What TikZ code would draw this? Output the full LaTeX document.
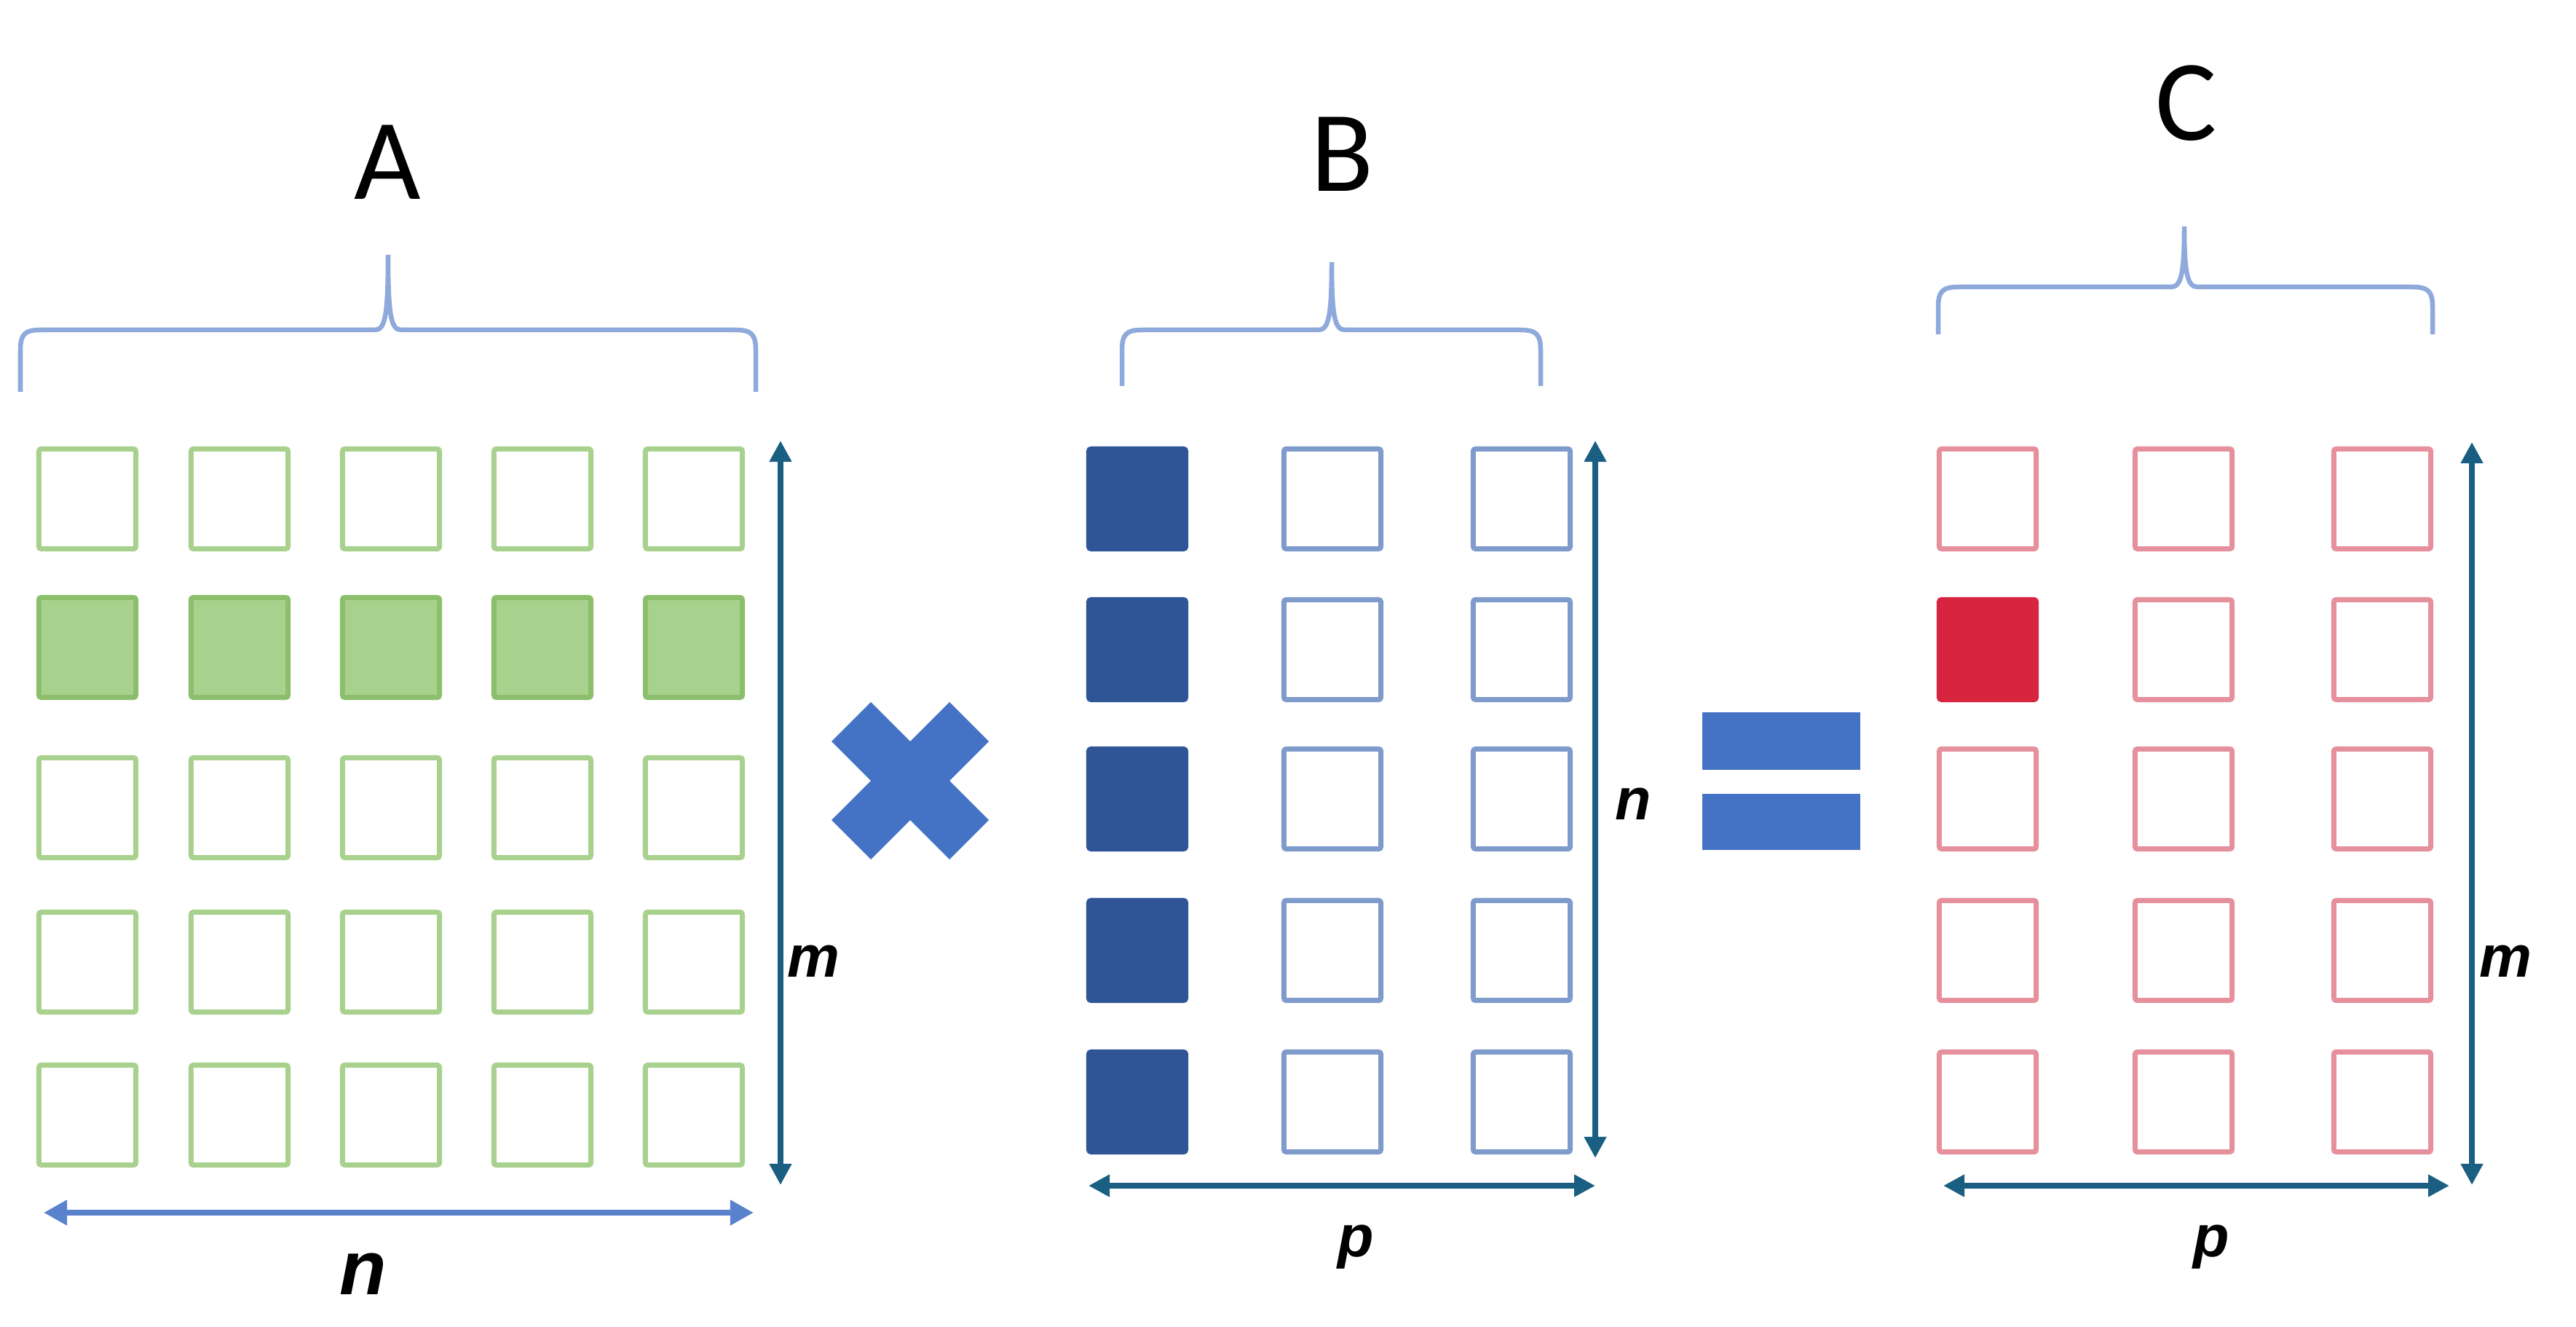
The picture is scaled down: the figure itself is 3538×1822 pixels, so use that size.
\documentclass[tikz,border=0pt]{standalone}
\usepackage{fontspec}
\newfontfamily\titlefont{Carlito}
\newfontfamily\varfont{Liberation Sans}
\usetikzlibrary{arrows.meta, positioning}
\definecolor{agreen}{HTML}{A9D18E}
\definecolor{agreendk}{HTML}{8CBF6C}
\definecolor{bblue}{HTML}{2F5597}
\definecolor{bbluelt}{HTML}{7F9BCB}
\definecolor{cred}{HTML}{D7243F}
\definecolor{credlt}{HTML}{E5909C}
\definecolor{brcblue}{HTML}{8EA9DB}
\definecolor{symblue}{HTML}{4472C4}
\definecolor{nblue}{HTML}{5A82CC}
\definecolor{dimteal}{HTML}{1A5F82}

\begin{document}
\begin{tikzpicture}[x=0.01cm, y=-0.01cm,
cell/.style={rectangle, rounded corners=0.03cm, minimum width=1.33cm, minimum height=1.37cm, inner sep=0, line width=0.07cm},
acell/.style={cell, draw=agreen},
acellon/.style={cell, draw=agreendk, fill=agreen},
bcell/.style={cell, draw=bbluelt},
bcellon/.style={cell, draw=bblue, fill=bblue},
ccell/.style={cell, draw=credlt},
ccellon/.style={cell, draw=cred, fill=cred},
brc/.style={draw=brcblue, line width=0.065cm}]
\tikzstyle{dimline}=[draw=dimteal, line width=0.08cm, >={Triangle[length=0.29cm,width=0.29cm]}, <->]
\tikzstyle{mtitle}=[font={\titlefont\fontsize{45}{54}\selectfont}]
\tikzstyle{var}=[font={\varfont\bfseries\itshape\fontsize{23}{28}\selectfont}]
\def\mtxbrace#1#2#3#4#5#6{%
  \draw[brc] (#1,#4) -- (#1,#5+28) .. controls (#1,#5+6) and (#1+6,#5) .. (#1+28,#5)
    -- (#2-18,#5) .. controls (#2-4,#5) and (#2,#5-20) .. (#2,#6)
    .. controls (#2,#5-20) and (#2+4,#5) .. (#2+18,#5)
    -- (#3-28,#5) .. controls (#3-6,#5) and (#3,#5+6) .. (#3,#5+28) -- (#3,#4);}
\fill[white] (0,0) rectangle (3538,1822);

%A
\node[acell] (a11) at (120,685) {};
\node[acell] (a12) at (329,685) {};
\node[acell] (a13) at (537,685) {};
\node[acell] (a14) at (745,685) {};
\node[acell] (a15) at (953,685) {};
\node[acellon] (a21) at (120,889) {};
\node[acellon] (a22) at (329,889) {};
\node[acellon] (a23) at (537,889) {};
\node[acellon] (a24) at (745,889) {};
\node[acellon] (a25) at (953,889) {};
\node[acell] (a31) at (120,1109) {};
\node[acell] (a32) at (329,1109) {};
\node[acell] (a33) at (537,1109) {};
\node[acell] (a34) at (745,1109) {};
\node[acell] (a35) at (953,1109) {};
\node[acell] (a41) at (120,1321) {};
\node[acell] (a42) at (329,1321) {};
\node[acell] (a43) at (537,1321) {};
\node[acell] (a44) at (745,1321) {};
\node[acell] (a45) at (953,1321) {};
\node[acell] (a51) at (120,1531) {};
\node[acell] (a52) at (329,1531) {};
\node[acell] (a53) at (537,1531) {};
\node[acell] (a54) at (745,1531) {};
\node[acell] (a55) at (953,1531) {};

%B
\node[bcellon] (b11) at (1562,685) {};
\node[bcell] (b12) at (1830,685) {};
\node[bcell] (b13) at (2090,685) {};
\node[bcellon] (b21) at (1562,892) {};
\node[bcell] (b22) at (1830,892) {};
\node[bcell] (b23) at (2090,892) {};
\node[bcellon] (b31) at (1562,1097) {};
\node[bcell] (b32) at (1830,1097) {};
\node[bcell] (b33) at (2090,1097) {};
\node[bcellon] (b41) at (1562,1305) {};
\node[bcell] (b42) at (1830,1305) {};
\node[bcell] (b43) at (2090,1305) {};
\node[bcellon] (b51) at (1562,1513) {};
\node[bcell] (b52) at (1830,1513) {};
\node[bcell] (b53) at (2090,1513) {};

%C
\node[ccell] (c11) at (2730,685) {};
\node[ccell] (c12) at (2999,685) {};
\node[ccell] (c13) at (3272,685) {};
\node[ccellon] (c21) at (2730,892) {};
\node[ccell] (c22) at (2999,892) {};
\node[ccell] (c23) at (3272,892) {};
\node[ccell] (c31) at (2730,1097) {};
\node[ccell] (c32) at (2999,1097) {};
\node[ccell] (c33) at (3272,1097) {};
\node[ccell] (c41) at (2730,1305) {};
\node[ccell] (c42) at (2999,1305) {};
\node[ccell] (c43) at (3272,1305) {};
\node[ccell] (c51) at (2730,1513) {};
\node[ccell] (c52) at (2999,1513) {};
\node[ccell] (c53) at (3272,1513) {};

% braces and names
\mtxbrace{28}{533}{1038}{538}{453}{350}
\mtxbrace{1541}{1829}{2116}{530}{453}{360}
\mtxbrace{2662}{3000}{3341}{459}{394}{311}
\node[mtitle] (nameA) at (532,223) {A};
\node[mtitle] (nameB) at (1844,212) {B};
\node[mtitle] (nameC) at (3003,142) {C};

% operators
\fill[symblue, shift={(1250,1072)}] (0,-54) -- (54,-108) -- (108,-54) -- (54,0) -- (108,54) -- (54,108)
  -- (0,54) -- (-54,108) -- (-108,54) -- (-54,0) -- (-108,-54) -- (-54,-108) -- cycle;
\fill[symblue] (2338,978) rectangle (2555,1057);
\fill[symblue] (2338,1090) rectangle (2555,1167);

% dimensions
\coordinate (am-top) at (1072,605);
\coordinate (am-bot) at (1072,1627);
\coordinate (an-left) at (60,1665);
\coordinate (an-right) at (1035,1665);
\coordinate (bn-top) at (2191,605);
\coordinate (bn-bot) at (2191,1590);
\coordinate (bp-left) at (1495,1628);
\coordinate (bp-right) at (2191,1628);
\coordinate (cm-top) at (3395,607);
\coordinate (cm-bot) at (3395,1627);
\coordinate (cp-left) at (2669,1628);
\coordinate (cp-right) at (3364,1628);
\draw[dimline] (am-top) -- (am-bot);
\draw[draw=nblue, line width=0.08cm, >={Triangle[length=0.32cm,width=0.33cm]}, <->] (an-left) -- (an-right);
\draw[dimline] (bn-top) -- (bn-bot);
\draw[dimline] (bp-left) -- (bp-right);
\draw[dimline] (cm-top) -- (cm-bot);
\draw[dimline] (cp-left) -- (cp-right);

\node[var] (am) at (1117,1320) {m};
\node[var, font={\varfont\bfseries\itshape\fontsize{30}{36}\selectfont}] (an) at (499,1749) {n};
\node[var] (bn) at (2243,1104) {n};
\node[var] (bp) at (1862,1712) {p};
\node[var] (cm) at (3441,1320) {m};
\node[var] (cp) at (3037,1712) {p};

\end{tikzpicture}
\end{document}
